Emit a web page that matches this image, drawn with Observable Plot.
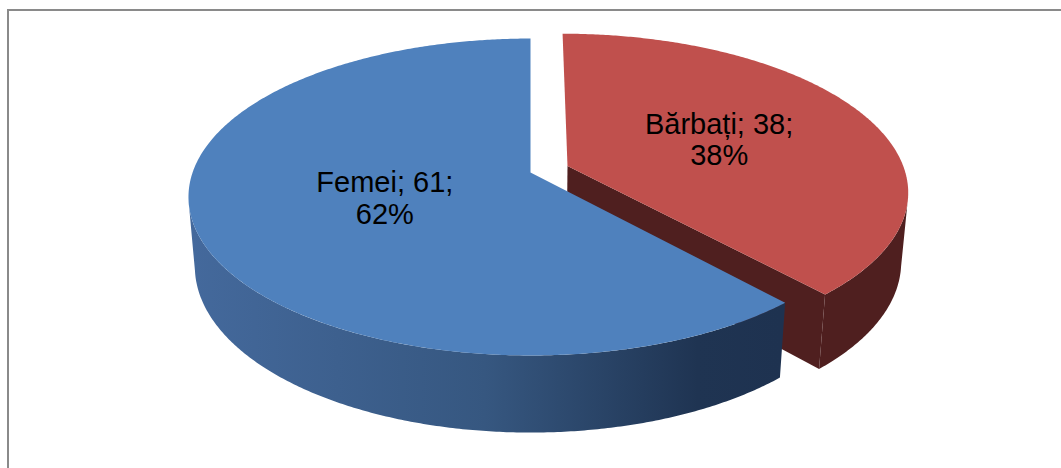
<!DOCTYPE html>
<html>
<head>
<meta charset="utf-8">
<script src="https://cdn.jsdelivr.net/npm/d3@7"></script>
<script src="https://cdn.jsdelivr.net/npm/@observablehq/plot@0.6"></script>
<style>
  html, body { margin: 0; padding: 0; background: #ffffff; overflow: hidden; }
  #wrap { position: relative; width: 1061px; height: 468px; }
  #frame { position: absolute; left: 7px; top: 9px; right: -10px; bottom: -10px;
           border-left: 2px solid #8a8a8a; border-top: 2px solid #8a8a8a; pointer-events: none; }
  svg { display: block; }
</style>
</head>
<body>
<div id="wrap"><div id="frame"></div></div>
<script>
// ---- data ----
const categories = ["Bărbați", "Femei"];
const values = [38, 61];
const topColors = ["#C0504D", "#4F81BD"];
const sideColors = ["#4F1F1F", "url(#blueSide)"];
const explode = [0.118, 0];
const labelRadius = [0.5, 0.45];

// ---- 3D perspective projection of a unit-radius pie ----
const W = 1061, H = 468;
const cx = 530, cy = 172;     // screen position of the pie centre (top face)
const f = 1943, D = 5.75;     // focal length, camera distance
const tilt = Math.asin(0.4577);
const ca = Math.cos(tilt), sa = Math.sin(tilt);
const depth = 0.233;          // thickness of the pie
function P(x, y, z) {
  const zc = D - z * ca - y * sa;
  return { x: cx + f * x / zc, y: cy - f * (y * ca - z * sa) / zc };
}

const total = d3.sum(values);
let acc = 0;
const slices = categories.map((c, i) => {
  const a0 = acc / total * 2 * Math.PI;
  acc += values[i];
  const a1 = acc / total * 2 * Math.PI;
  const am = (a0 + a1) / 2;
  const ox = explode[i] * Math.sin(am), oz = -explode[i] * Math.cos(am);
  return { c, v: values[i], pct: Math.round(values[i] / total * 100), a0, a1, am, ox, oz, i };
});

function arc(s, y, from, to) {
  const n = Math.max(2, Math.ceil(Math.abs(to - from) / (Math.PI / 360)));
  const pts = [];
  for (let k = 0; k <= n; k++) {
    const t = from + (to - from) * k / n;
    pts.push(P(s.ox + Math.sin(t), y, s.oz - Math.cos(t)));
  }
  return pts;
}
// rim visible from the camera where the outward normal faces it
function visible(s, t) {
  return -Math.sin(t) * s.ox - 1 - Math.cos(t) * (D * ca - s.oz) > 0;
}
function visibleRange(s) {
  let lo = null, hi = null;
  const n = 2000;
  for (let k = 0; k <= n; k++) {
    const t = s.a0 + (s.a1 - s.a0) * k / n;
    if (visible(s, t)) { if (lo === null) lo = t; hi = t; }
  }
  const pad = 0.02;
  return [Math.max(s.a0, lo - pad), Math.min(s.a1, hi + pad)];
}
const topFace = s => [P(s.ox, 0, s.oz), ...arc(s, 0, s.a0, s.a1), P(s.ox, 0, s.oz)];
const outerSide = s => {
  const [lo, hi] = visibleRange(s);
  return [...arc(s, 0, lo, hi), ...arc(s, -depth, hi, lo)];
};
const cutFace = (s, a) => [
  P(s.ox, 0, s.oz),
  P(s.ox + Math.sin(a), 0, s.oz - Math.cos(a)),
  P(s.ox + Math.sin(a), -depth, s.oz - Math.cos(a)),
  P(s.ox, -depth, s.oz)
];

const red = slices[0], blue = slices[1];
const poly = (pts, fill) => Plot.line(pts, { x: "x", y: "y", fill, stroke: "none" });

const labels = slices.map(s => {
  const r = labelRadius[s.i];
  const p = P(s.ox + r * Math.sin(s.am), 0, s.oz - r * Math.cos(s.am));
  return { x: p.x, y: p.y, text: `${s.c}; ${s.v};\n${s.pct}%` };
});

const chart = Plot.plot({
  width: W, height: H,
  margin: 0,
  x: { domain: [0, W], range: [0, W], axis: null },
  y: { domain: [0, H], range: [0, H], axis: null },
  marks: [
    poly(outerSide(red), sideColors[0]),
    poly(cutFace(red, red.a1), sideColors[0]),
    poly(topFace(red), topColors[0]),
    poly(outerSide(blue), sideColors[1]),
    poly(topFace(blue), topColors[1]),
    Plot.text(labels, {
      x: "x", y: "y", text: "text",
      fontSize: 29, lineHeight: 1.09, fill: "#000000",
      fontFamily: "'Liberation Sans', Arial, sans-serif"
    })
  ]
});

const defs = d3.select(chart).insert("defs", ":first-child");
const g = defs.append("linearGradient")
  .attr("id", "blueSide")
  .attr("gradientUnits", "userSpaceOnUse")
  .attr("x1", 190).attr("x2", 780).attr("y1", 0).attr("y2", 0);
[[0, "#44699C"], [0.5, "#365780"], [0.86, "#1F3452"], [1, "#1E3250"]]
  .forEach(([o, c]) => g.append("stop").attr("offset", o).attr("stop-color", c));

document.getElementById("wrap").insertBefore(chart, document.getElementById("frame"));
</script>
</body>
</html>
